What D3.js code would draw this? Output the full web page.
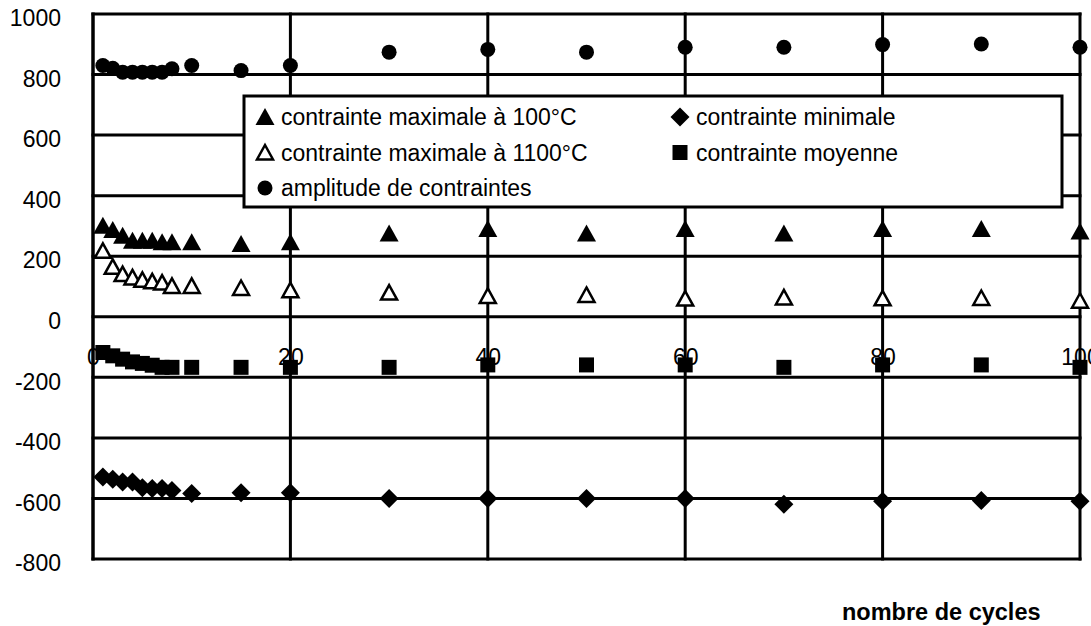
<!DOCTYPE html>
<html>
<head>
<meta charset="utf-8">
<script src="https://cdn.jsdelivr.net/npm/d3@7"></script>
<style>
	body { margin: 0; background: #fff; }
	svg { display: block; font-family: "Liberation Sans", Arial, sans-serif; }
	.tick-text { font-size: 23px; fill: #000; }
	.legend-text { font-size: 23px; fill: #000; }
	.axis-title { font-size: 23.5px; font-weight: bold; fill: #000; }
</style>
</head>
<body>
<div id="chartContainer"></div>
<script>
// dati nolasīti no attēla
var cycles = [1, 2, 3, 4, 5, 6, 7, 8, 10, 15, 20, 30, 40, 50, 60, 70, 80, 90, 100];
var maxHot = [301, 287, 268, 251, 251, 251, 246, 246, 246, 240, 246, 275, 290, 275, 290, 275, 290, 290, 282];
var minStress = [-529, -537, -546, -546, -565, -567, -567, -574, -584, -581, -581, -600, -600, -600, -600, -619, -609, -607, -609];
var maxCold = [218, 165, 141, 130, 122, 117, 113, 102, 102, 95, 88, 80, 69, 72, 60, 64, 61, 62, 53];
var meanStress = [-118, -129, -140, -149, -154, -160, -167, -167, -167, -167, -167, -167, -159, -159, -159, -167, -159, -159, -167];
var amplitude = [830, 821, 808, 808, 808, 808, 808, 819, 830, 813, 830, 874, 883, 874, 890, 890, 899, 901, 890];

var xTicks = [0, 20, 40, 60, 80, 100];
var yTicks = [-800, -600, -400, -200, 0, 200, 400, 600, 800, 1000];

var seriesNames = ["contrainte maximale à 100°C", "contrainte minimale", "contrainte maximale à 1100°C", "contrainte moyenne", "amplitude de contraintes"];
var seriesValues = [maxHot, minStress, maxCold, meanStress, amplitude];
var seriesMarkers = ["triangle", "diamond", "triangleOpen", "square", "circle"];

var xTitle = "nombre de cycles";

Chart = {
	width : 1091,
	height : 626,
	left : 93, // x ass kreisā mala
	right : 1080,
	top : 14,
	bottom : 559,
	lineWidth : 3,

	drawChart : function(){
		var svg = d3.select("#chartContainer")
			.append("svg")
			.attr("width", Chart.width)
			.attr("height", Chart.height);

		var x = d3.scaleLinear().domain([0, 100]).range([Chart.left, Chart.right]);
		var y = d3.scaleLinear().domain([-800, 1000]).range([Chart.bottom, Chart.top]);

		this.drawGrid(svg, x, y);
		this.drawAxes(svg, x, y);
		this.drawSeries(svg, x, y);
		this.drawLegend(svg);

		svg.append("text")
			.attr("class", "axis-title")
			.attr("x", 842)
			.attr("y", 620)
			.text(xTitle);
	},

	drawGrid : function(svg, x, y){
		var g = svg.append("g").attr("class", "grid");

		g.selectAll("line.h").data(yTicks).enter().append("line")
			.attr("class", "h")
			.attr("x1", Chart.left - 1.5)
			.attr("x2", Chart.right + 1.5)
			.attr("y1", function(d){ return y(d); })
			.attr("y2", function(d){ return y(d); })
			.style("stroke", "#000")
			.style("stroke-width", Chart.lineWidth);

		g.selectAll("line.v").data(xTicks).enter().append("line")
			.attr("class", "v")
			.attr("x1", function(d){ return x(d); })
			.attr("x2", function(d){ return x(d); })
			.attr("y1", y(1000) - 1.5)
			.attr("y2", y(-800) + 1.5)
			.style("stroke", "#000")
			.style("stroke-width", function(d){ return d == 0 ? Chart.lineWidth + 0.5 : Chart.lineWidth; });
	},

	drawAxes : function(svg, x, y){
		// skaitļi bez tūkstošu atdalītāja un ar parasto mīnusu
		var plain = function(d){ return String(d); };

		var yAxis = svg.append("g")
			.attr("transform", "translate(" + Chart.left + ",0)")
			.call(d3.axisLeft(y).tickValues(yTicks).tickFormat(plain).tickSize(0).tickPadding(32));
		yAxis.select(".domain").remove();
		yAxis.selectAll("text")
			.attr("class", "tick-text")
			.attr("dy", "0.51em");
		yAxis.attr("font-size", null).attr("font-family", null);

		var xAxis = svg.append("g")
			.attr("transform", "translate(0," + y(0) + ")")
			.call(d3.axisBottom(x).tickValues(xTicks).tickFormat(plain).tickSize(0).tickPadding(32));
		xAxis.select(".domain").remove();
		xAxis.selectAll("text").attr("class", "tick-text");
		xAxis.attr("font-size", null).attr("font-family", null);
	},

	markerPath : function(type){
		// marķieru formas, centrs 0,0
		if(type == "triangle") return "M0,-9L9.5,8L-9.5,8Z";
		if(type == "triangleOpen") return "M0,-7.5L8,7L-8,7Z";
		if(type == "diamond") return "M0,-9.5L9.5,0L0,9.5L-9.5,0Z";
		if(type == "square") return "M-7.5,-7.5L7.5,-7.5L7.5,7.5L-7.5,7.5Z";
		return d3.arc()({innerRadius: 0, outerRadius: 7.5, startAngle: 0, endAngle: 2 * Math.PI});
	},

	styleMarker : function(sel, type){
		if(type == "triangleOpen"){
			sel.style("fill", "#fff").style("stroke", "#000").style("stroke-width", 2.5);
		} else {
			sel.style("fill", "#000");
		}
	},

	drawSeries : function(svg, x, y){
		var g = svg.append("g").attr("class", "chart");
		for(var s = 0; s < seriesValues.length; s++){
			var vals = seriesValues[s];
			var type = seriesMarkers[s];
			var pts = g.append("g").selectAll("path").data(vals).enter().append("path")
				.attr("d", Chart.markerPath(type))
				.attr("transform", function(d, i){
					return "translate(" + x(cycles[i]) + "," + y(d) + ")";
				});
			Chart.styleMarker(pts, type);
		}
	},

	drawLegend : function(svg){
		var g = svg.append("g").attr("class", "legend");
		g.append("rect")
			.attr("x", 244)
			.attr("y", 96)
			.attr("width", 818)
			.attr("height", 111)
			.style("fill", "#fff")
			.style("stroke", "#000")
			.style("stroke-width", 3);

		var colX = [265, 680];
		var rowY = [117, 152.5, 188];
		for(var i = 0; i < seriesNames.length; i++){
			var cx = colX[i % 2];
			var cy = rowY[Math.floor(i / 2)];
			var m = g.append("path")
				.attr("d", Chart.markerPath(seriesMarkers[i]))
				.attr("transform", "translate(" + cx + "," + cy + ")");
			Chart.styleMarker(m, seriesMarkers[i]);

			g.append("text")
				.attr("class", "legend-text")
				.attr("x", cx + 16)
				.attr("y", cy + 8.2)
				.text(seriesNames[i]);
		}
	}
}

Chart.drawChart();
</script>
</body>
</html>
